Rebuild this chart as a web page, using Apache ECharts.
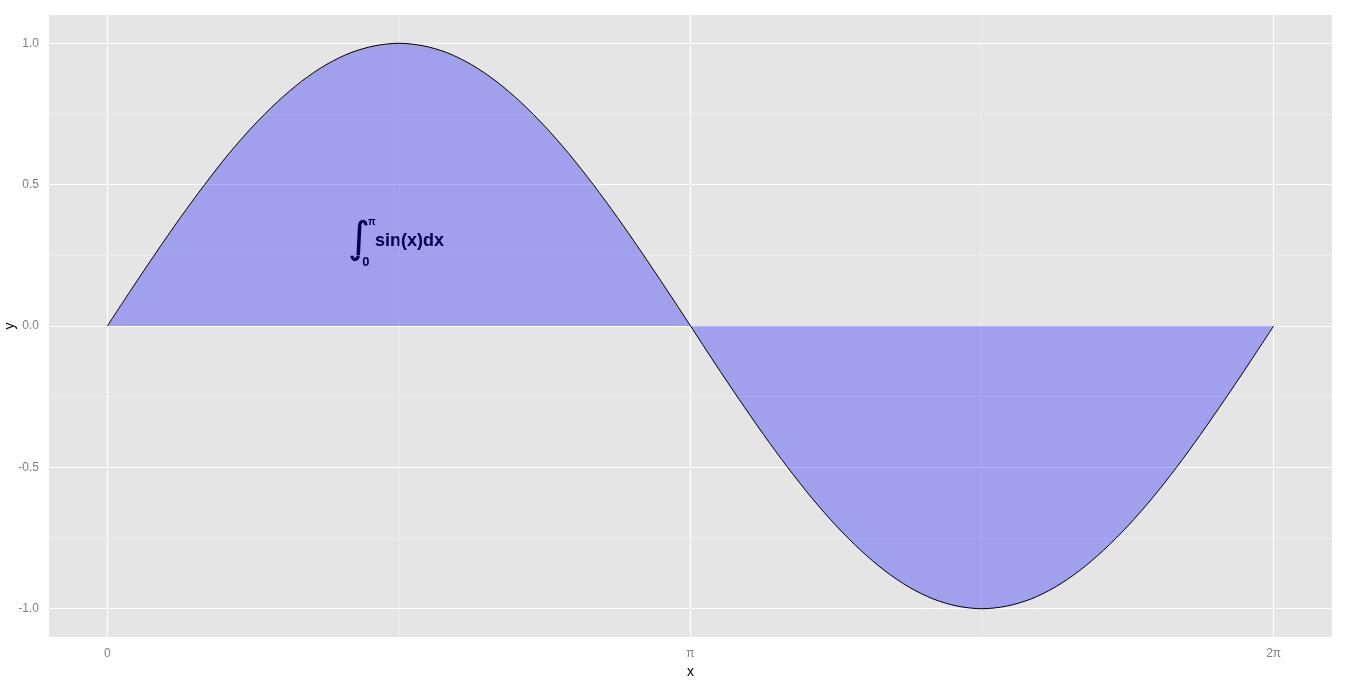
<!DOCTYPE html>
<html><head><meta charset="utf-8">
<script src="https://cdn.jsdelivr.net/npm/echarts@6/dist/echarts.min.js"></script>
<style>html,body{margin:0;padding:0;background:#fff}#c{width:1347px;height:681px}</style>
</head><body><div id="c"></div>
<script>
// x values (radians), step pi/24
const xVals = [0,0.131,0.262,0.393,0.524,0.654,0.785,0.916,1.047,1.178,1.309,1.440,1.571,1.702,1.833,1.963,2.094,2.225,2.356,2.487,2.618,2.749,2.880,3.011,3.142,3.272,3.403,3.534,3.665,3.796,3.927,4.058,4.189,4.320,4.451,4.581,4.712,4.843,4.974,5.105,5.236,5.367,5.498,5.629,5.760,5.890,6.021,6.152,6.283];
const yVals = [0,0.131,0.259,0.383,0.500,0.609,0.707,0.793,0.866,0.924,0.966,0.991,1.000,0.991,0.966,0.924,0.866,0.793,0.707,0.609,0.500,0.383,0.259,0.131,0,-0.131,-0.259,-0.383,-0.500,-0.609,-0.707,-0.793,-0.866,-0.924,-0.966,-0.991,-1.000,-0.991,-0.966,-0.924,-0.866,-0.793,-0.707,-0.609,-0.500,-0.383,-0.259,-0.131,0];
const xTickValues = [0, 3.1416, 6.2832];
const xTickLabels = ['0', 'π', '2π'];
const xMinorValues = [1.5708, 4.7124];
const yTickValues = [-1, -0.5, 0, 0.5, 1];
const yTickLabels = ['-1.0', '-0.5', '0.0', '0.5', '1.0'];
const yMinorValues = [-0.75, -0.25, 0.25, 0.75];
const annotX = [1.5708];
const annotY = [0.3];

const chart = echarts.init(document.getElementById('c'), null, {renderer: 'canvas'});
const pts = xVals.map((x, i) => [x, yVals[i]]);
const labelColor = '#7f7f7f';

const gridLines = [];
xTickValues.forEach(v => gridLines.push({xAxis: v, lineStyle: {color: '#ffffff', width: 1.1}}));
xMinorValues.forEach(v => gridLines.push({xAxis: v, lineStyle: {color: '#f2f2f2', width: 0.6}}));
yTickValues.forEach(v => gridLines.push({yAxis: v, lineStyle: {color: '#ffffff', width: 1.1}}));
yMinorValues.forEach(v => gridLines.push({yAxis: v, lineStyle: {color: '#f2f2f2', width: 0.6}}));

chart.setOption({
  animation: false,
  grid: {left: 49, right: 15, top: 15, bottom: 44, show: true, backgroundColor: '#e5e5e5', borderWidth: 0,
    containLabel: false, outerBoundsMode: 'none'},
  xAxis: {
    type: 'value', min: -0.3142, max: 6.5974,
    name: 'x', nameLocation: 'middle', nameGap: 28, nameMoveOverlap: false,
    nameTextStyle: {color: '#000', fontSize: 14, fontFamily: 'Liberation Sans'},
    axisLine: {show: false},
    splitLine: {show: false},
    axisTick: {show: true, customValues: xTickValues, length: 5, lineStyle: {color: labelColor}},
    axisLabel: {customValues: xTickValues, color: labelColor, fontSize: 12, fontFamily: 'Liberation Sans', margin: 11,
      formatter: v => { const i = xTickValues.findIndex(t => Math.abs(t - v) < 1e-3); return i >= 0 ? xTickLabels[i] : ''; }}
  },
  yAxis: {
    type: 'value', min: -1.1, max: 1.1,
    name: 'y', nameLocation: 'middle', nameGap: 32, nameRotate: 90, nameMoveOverlap: false,
    nameTextStyle: {color: '#000', fontSize: 14, fontFamily: 'Liberation Sans'},
    axisLine: {show: false},
    splitLine: {show: false},
    axisTick: {show: true, customValues: yTickValues, length: 5, lineStyle: {color: labelColor}},
    axisLabel: {customValues: yTickValues, color: labelColor, fontSize: 12, fontFamily: 'Liberation Sans', margin: 10,
      formatter: v => { const i = yTickValues.findIndex(t => Math.abs(t - v) < 1e-6); return i >= 0 ? yTickLabels[i] : ''; }}
  },
  series: [
    {
      type: 'line', data: [], z: 1, silent: true,
      markLine: {silent: true, symbol: ['none', 'none'], label: {show: false}, z: 1, animation: false,
        lineStyle: {type: 'solid'}, emphasis: {disabled: true}, data: gridLines}
    },
    {
      type: 'line', data: pts, z: 3, smooth: 0.3, showSymbol: false, silent: true,
      lineStyle: {color: '#000', width: 1},
      areaStyle: {color: 'rgba(0,0,255,0.3)', opacity: 1, origin: 0}
    }
  ]
});

function drawAnnot() {
  const p = chart.convertToPixel({gridIndex: 0}, [annotX[0], annotY[0]]);
  chart.setOption({graphic: [
    {type: 'text', x: p[0] - 40, y: p[1], style: {text: '∫', font: '43px "DejaVu Sans"', fill: '#000', align: 'center', verticalAlign: 'middle'}},
    {type: 'text', x: p[0] - 27, y: p[1] - 19, style: {text: 'π', font: 'bold 10px "Liberation Sans"', fill: '#000', align: 'center', verticalAlign: 'middle'}},
    {type: 'text', x: p[0] - 33, y: p[1] + 21, style: {text: '0', font: 'bold 13px "Liberation Sans"', fill: '#000', align: 'center', verticalAlign: 'middle'}},
    {type: 'text', x: p[0] - 24, y: p[1], style: {text: 'sin(x)dx', font: 'bold 18px "Liberation Sans"', fill: '#000', align: 'left', verticalAlign: 'middle'}}
  ]});
}
drawAnnot();
</script></body></html>
